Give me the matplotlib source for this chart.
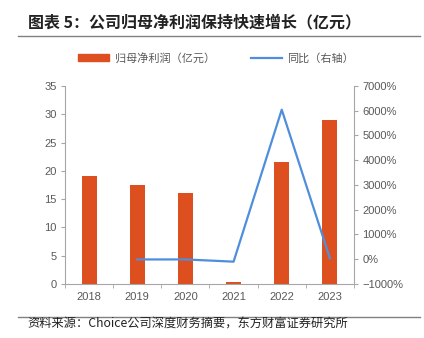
import numpy as np
import matplotlib.pyplot as plt
from matplotlib.lines import Line2D
from matplotlib.patches import Patch

plt.rcParams['font.family'] = ['Liberation Sans', 'Noto Sans CJK SC', 'DejaVu Sans']

years = ['2018', '2019', '2020', '2021', '2022', '2023']
profit = [19.1, 17.5, 16.1, 0.35, 21.5, 29.0]           # 归母净利润（亿元）
yoy = [np.nan, -8.4, -8.0, -97.8, 6043.0, 34.9]          # 同比（%）

bar_color = '#DD4F1F'
line_color = '#4F8EDC'
axis_color = '#A6A6A6'
text_color = '#595959'

fig = plt.figure(figsize=(4.24, 3.38), dpi=100)
ax = fig.add_axes([0.1533, 0.1598, 0.6816, 0.5858])
ax2 = ax.twinx()

x = np.arange(len(years))
ax.bar(x, profit, width=0.31, color=bar_color, zorder=2)
ax2.plot(x, yoy, color=line_color, lw=1.6, zorder=3)

ax.set_xlim(-0.5, len(years) - 0.5)
ax.set_ylim(0, 35)
ax.set_yticks(np.arange(0, 36, 5))
ax2.set_ylim(-1000, 7000)
ax2.set_yticks(np.arange(-1000, 7001, 1000))
ax2.set_yticklabels([f'{v}%'.replace('-', '−') for v in range(-1000, 7001, 1000)])

ax.set_xticks(x)
ax.set_xticklabels(years)
ax.set_xticks(np.arange(-0.5, len(years)), minor=True)
ax.tick_params(axis='x', which='major', length=0, pad=6, labelsize=8, labelcolor=text_color)
ax.tick_params(axis='x', which='minor', length=3, color=axis_color, direction='out')
ax.tick_params(axis='y', length=3, color=axis_color, labelsize=8, labelcolor=text_color, pad=3)
ax2.tick_params(axis='y', length=3, color=axis_color, labelsize=8, labelcolor=text_color, pad=3)

for a in (ax, ax2):
    a.spines['top'].set_visible(False)
    for s in ('left', 'right', 'bottom'):
        a.spines[s].set_color(axis_color)
ax.spines['right'].set_visible(False)
ax2.spines['left'].set_visible(False)
ax2.spines['bottom'].set_visible(False)

# 标题与分隔线
fig.text(0.066, 0.935, '图表 5：公司归母净利润保持快速增长（亿元）', fontsize=11.5,
         fontweight='bold', color='#222222', va='center', family=['Noto Sans CJK SC'])
fig.add_artist(Line2D([0.042, 0.99], [0.893, 0.893], color='#808080', lw=1.0))

# 图例
handles = [Patch(color=bar_color), Line2D([], [], color=line_color, lw=1.6)]
fig.legend(handles, ['归母净利润（亿元）', '同比（右轴）'], loc='center',
           bbox_to_anchor=(0.51, 0.828), ncol=2, frameon=False, fontsize=8,
           labelcolor=text_color, handlelength=2.8, handleheight=0.5,
           columnspacing=3.2, handletextpad=0.5)

# 资料来源
fig.add_artist(Line2D([0.042, 0.99], [0.063, 0.063], color='#808080', lw=1.0))
fig.text(0.064, 0.042, '资料来源：Choice公司深度财务摘要，东方财富证券研究所', fontsize=8.8,
         color='#222222', va='center', family=['Noto Sans CJK SC'])

fig.savefig('out.png', dpi=100)
